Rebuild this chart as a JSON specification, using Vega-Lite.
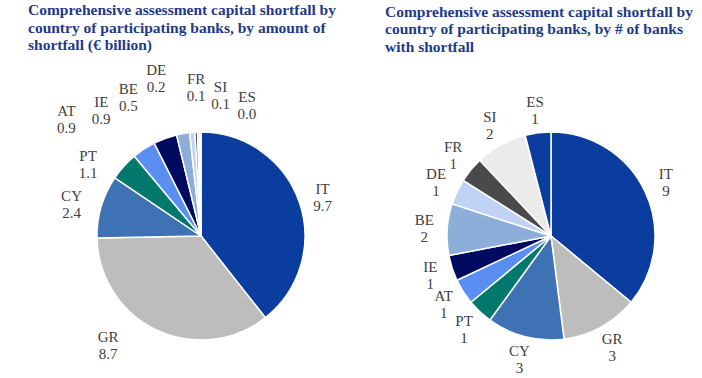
{
  "$schema": "https://vega.github.io/schema/vega-lite/v6.json",
  "background": "white",
  "padding": {"left": 28, "top": 3, "right": 0, "bottom": 0},
  "spacing": 34,
  "config": {"view": {"stroke": null}},
  "datasets": {
    "amount": [
      {"country": "IT", "value": 9.7, "order": 1, "label": "IT\n9.7"},
      {"country": "GR", "value": 8.7, "order": 2, "label": "GR\n8.7"},
      {"country": "CY", "value": 2.4, "order": 3, "label": "CY\n2.4"},
      {"country": "PT", "value": 1.1, "order": 4, "label": "PT\n1.1"},
      {"country": "AT", "value": 0.9, "order": 5, "label": "AT\n0.9"},
      {"country": "IE", "value": 0.9, "order": 6, "label": "IE\n0.9"},
      {"country": "BE", "value": 0.5, "order": 7, "label": "BE\n0.5"},
      {"country": "DE", "value": 0.2, "order": 8, "label": "DE\n0.2"},
      {"country": "FR", "value": 0.1, "order": 9, "label": "FR\n0.1"},
      {"country": "SI", "value": 0.1, "order": 10, "label": "SI\n0.1"},
      {"country": "ES", "value": 0.03, "order": 11, "label": "ES\n0.0"}
    ],
    "banks": [
      {"country": "IT", "value": 9, "order": 1, "label": "IT\n9"},
      {"country": "GR", "value": 3, "order": 2, "label": "GR\n3"},
      {"country": "CY", "value": 3, "order": 3, "label": "CY\n3"},
      {"country": "PT", "value": 1, "order": 4, "label": "PT\n1"},
      {"country": "AT", "value": 1, "order": 5, "label": "AT\n1"},
      {"country": "IE", "value": 1, "order": 6, "label": "IE\n1"},
      {"country": "BE", "value": 2, "order": 7, "label": "BE\n2"},
      {"country": "DE", "value": 1, "order": 8, "label": "DE\n1"},
      {"country": "FR", "value": 1, "order": 9, "label": "FR\n1"},
      {"country": "SI", "value": 2, "order": 10, "label": "SI\n2"},
      {"country": "ES", "value": 1, "order": 11, "label": "ES\n1"}
    ]
  },
  "hconcat": [
    {
      "width": 300,
      "height": 250,
      "data": {"name": "amount"},
      "title": {
        "text": ["Comprehensive assessment capital shortfall by", "country of participating banks, by amount of", "shortfall (€ billion)"],
        "anchor": "start", "frame": "group", "dx": -23, "offset": 9,
        "font": "Liberation Serif", "fontSize": 15.5, "fontWeight": "bold", "color": "#1f3a8a", "lineHeight": 17.5
      },
      "layer": [
        {
          "mark": {"type": "arc", "outerRadius": 104, "stroke": "white", "strokeWidth": 1.5},
          "encoding": {
            "theta": {"field": "value", "type": "quantitative", "stack": true},
            "order": {"field": "order", "type": "quantitative"},
            "color": {"field": "country", "type": "nominal", "legend": null,
              "scale": {"domain": ["IT","GR","CY","PT","AT","IE","BE","DE","FR","SI","ES"],
                        "range": ["#0b3d9e","#bdbdbd","#3f72b5","#00786c","#5a8ef2","#000a5e","#8daed8","#c0d3f4","#4a4a4a","#ebebeb","#0b3d9e"]}}
          }
        },
        {"mark": {"type": "text", "radius": 135, "dx": -6, "dy": -3, "font": "Liberation Serif", "fontSize": 15, "lineHeight": 17, "lineBreak": "\n", "color": "#404040"},
         "encoding": {"theta": {"field": "value", "type": "quantitative", "stack": true}, "order": {"field": "order", "type": "quantitative"}, "detail": {"field": "country"},
                      "text": {"condition": {"test": "datum.country === 'IT'", "field": "label"}, "value": ""}}},
        {"mark": {"type": "text", "radius": 135, "dx": -35, "dy": -21, "font": "Liberation Serif", "fontSize": 15, "lineHeight": 17, "lineBreak": "\n", "color": "#404040"},
         "encoding": {"theta": {"field": "value", "type": "quantitative", "stack": true}, "order": {"field": "order", "type": "quantitative"}, "detail": {"field": "country"},
                      "text": {"condition": {"test": "datum.country === 'GR'", "field": "label"}, "value": ""}}},
        {"mark": {"type": "text", "radius": 135, "dx": 0, "dy": -2, "font": "Liberation Serif", "fontSize": 15, "lineHeight": 17, "lineBreak": "\n", "color": "#404040"},
         "encoding": {"theta": {"field": "value", "type": "quantitative", "stack": true}, "order": {"field": "order", "type": "quantitative"}, "detail": {"field": "country"},
                      "text": {"condition": {"test": "datum.country === 'CY'", "field": "label"}, "value": ""}}},
        {"transform": [{"stack": "value", "groupby": [], "sort": [{"field": "order"}], "as": ["v0", "v1"]}, {"filter": "datum.country === 'PT'"}],
         "mark": {"type": "text", "radius": 135, "dx": -1, "dy": -4, "font": "Liberation Serif", "fontSize": 15, "lineHeight": 17, "lineBreak": "\n", "color": "#404040"},
         "encoding": {"theta": {"field": "v0", "type": "quantitative", "stack": null}, "text": {"field": "label"}}},
        {"transform": [{"stack": "value", "groupby": [], "sort": [{"field": "order"}], "as": ["v0", "v1"]}, {"filter": "datum.country === 'AT'"}],
         "mark": {"type": "text", "radius": 135, "dx": -48, "dy": -21, "font": "Liberation Serif", "fontSize": 15, "lineHeight": 17, "lineBreak": "\n", "color": "#404040"},
         "encoding": {"theta": {"field": "v0", "type": "quantitative", "stack": null}, "text": {"field": "label"}}},
        {"transform": [{"stack": "value", "groupby": [], "sort": [{"field": "order"}], "as": ["v0", "v1"]}, {"filter": "datum.country === 'IE'"}],
         "mark": {"type": "text", "radius": 135, "dx": -39, "dy": -13, "font": "Liberation Serif", "fontSize": 15, "lineHeight": 17, "lineBreak": "\n", "color": "#404040"},
         "encoding": {"theta": {"field": "v0", "type": "quantitative", "stack": null}, "text": {"field": "label"}}},
        {"transform": [{"stack": "value", "groupby": [], "sort": [{"field": "order"}], "as": ["v0", "v1"]}, {"filter": "datum.country === 'BE'"}],
         "mark": {"type": "text", "radius": 135, "dx": -41, "dy": -16, "font": "Liberation Serif", "fontSize": 15, "lineHeight": 17, "lineBreak": "\n", "color": "#404040"},
         "encoding": {"theta": {"field": "v0", "type": "quantitative", "stack": null}, "text": {"field": "label"}}},
        {"transform": [{"stack": "value", "groupby": [], "sort": [{"field": "order"}], "as": ["v0", "v1"]}, {"filter": "datum.country === 'DE'"}],
         "mark": {"type": "text", "radius": 135, "dx": -30, "dy": -32, "font": "Liberation Serif", "fontSize": 15, "lineHeight": 17, "lineBreak": "\n", "color": "#404040"},
         "encoding": {"theta": {"field": "v0", "type": "quantitative", "stack": null}, "text": {"field": "label"}}},
        {"transform": [{"stack": "value", "groupby": [], "sort": [{"field": "order"}], "as": ["v0", "v1"]}, {"filter": "datum.country === 'FR'"}],
         "mark": {"type": "text", "radius": 135, "dx": 3, "dy": -22, "font": "Liberation Serif", "fontSize": 15, "lineHeight": 17, "lineBreak": "\n", "color": "#404040"},
         "encoding": {"theta": {"field": "v0", "type": "quantitative", "stack": null}, "text": {"field": "label"}}},
        {"transform": [{"stack": "value", "groupby": [], "sort": [{"field": "order"}], "as": ["v0", "v1"]}, {"filter": "datum.country === 'SI'"}],
         "mark": {"type": "text", "radius": 135, "dx": 24, "dy": -14, "font": "Liberation Serif", "fontSize": 15, "lineHeight": 17, "lineBreak": "\n", "color": "#404040"},
         "encoding": {"theta": {"field": "v0", "type": "quantitative", "stack": null}, "text": {"field": "label"}}},
        {"transform": [{"stack": "value", "groupby": [], "sort": [{"field": "order"}], "as": ["v0", "v1"]}, {"filter": "datum.country === 'ES'"}],
         "mark": {"type": "text", "radius": 135, "dx": 47, "dy": -4, "font": "Liberation Serif", "fontSize": 15, "lineHeight": 17, "lineBreak": "\n", "color": "#404040"},
         "encoding": {"theta": {"field": "v0", "type": "quantitative", "stack": null}, "text": {"field": "label"}}}
      ]
    },
    {
      "width": 300,
      "height": 250,
      "data": {"name": "banks"},
      "title": {
        "text": ["Comprehensive assessment capital shortfall by", "country of participating banks, by # of banks", "with shortfall"],
        "anchor": "start", "frame": "group", "dx": -16, "offset": 40,
        "font": "Liberation Serif", "fontSize": 15.5, "fontWeight": "bold", "color": "#1f3a8a", "lineHeight": 17.5
      },
      "encoding": {
        "theta": {"field": "value", "type": "quantitative", "stack": true},
        "order": {"field": "order", "type": "quantitative"}
      },
      "layer": [
        {
          "mark": {"type": "arc", "outerRadius": 104, "stroke": "white", "strokeWidth": 1.5},
          "encoding": {
            "color": {"field": "country", "type": "nominal", "legend": null,
              "scale": {"domain": ["IT","GR","CY","PT","AT","IE","BE","DE","FR","SI","ES"],
                        "range": ["#0b3d9e","#bdbdbd","#3f72b5","#00786c","#5a8ef2","#000a5e","#8daed8","#c0d3f4","#4a4a4a","#ebebeb","#0b3d9e"]}}
          }
        },
        {"mark": {"type": "text", "radius": 127, "dy": -8, "font": "Liberation Serif", "fontSize": 15, "lineHeight": 17, "lineBreak": "\n", "color": "#404040"},
         "encoding": {"detail": {"field": "country"}, "text": {"field": "label"}}}
      ]
    }
  ]
}
